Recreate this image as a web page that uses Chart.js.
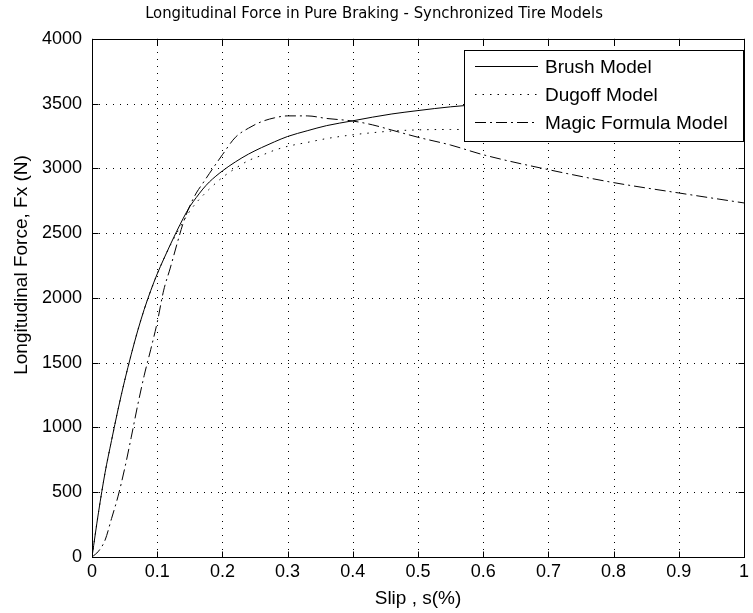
<!DOCTYPE html>
<html>
<head>
<meta charset="utf-8">
<script src="https://cdn.jsdelivr.net/npm/chart.js@4"></script>
<style>
  html, body { margin: 0; padding: 0; background: #fff; }
  canvas { display: block; }
</style>
</head>
<body>
<canvas id="chart" width="753" height="613"></canvas>
<script>
// valeurs
const slip = [0, 0.01, 0.02, 0.03, 0.04, 0.05, 0.06, 0.07, 0.08, 0.09, 0.1, 0.11, 0.12, 0.13, 0.14, 0.15,
  0.16, 0.17, 0.18, 0.2, 0.22, 0.24, 0.26, 0.28, 0.3, 0.33, 0.36, 0.4, 0.43, 0.46, 0.5, 0.55, 0.6, 0.7, 0.8, 0.9, 1.0];
const brushForce = [0, 345, 650, 900, 1140, 1360, 1560, 1745, 1910, 2055, 2185, 2300, 2410, 2515, 2615, 2705,
  2775, 2840, 2895, 2980, 3050, 3110, 3160, 3205, 3246, 3290, 3330, 3367, 3395, 3420, 3446, 3475, 3495, 3525, 3548, 3565, 3577];
const dugoffForce = [0, 345, 650, 900, 1140, 1360, 1560, 1745, 1910, 2055, 2185, 2300, 2405, 2500, 2590, 2670,
  2735, 2790, 2840, 2930, 3000, 3060, 3100, 3140, 3170, 3200, 3230, 3259, 3275, 3288, 3297, 3300, 3300, 3300, 3298, 3295, 3292];
const magicForce = [0, 45, 130, 297, 470, 680, 920, 1170, 1400, 1600, 1810, 2060, 2230, 2410, 2580, 2710,
  2810, 2885, 2960, 3105, 3240, 3310, 3360, 3390, 3405, 3405, 3385, 3365, 3336, 3295, 3240, 3180, 3105, 2990, 2890, 2810, 2733];

const seriesNames = ["Brush Model", "Dugoff Model", "Magic Formula Model"];
const xTickValues = [0, 0.1, 0.2, 0.3, 0.4, 0.5, 0.6, 0.7, 0.8, 0.9, 1];
const xTickLabels = ["0", "0.1", "0.2", "0.3", "0.4", "0.5", "0.6", "0.7", "0.8", "0.9", "1"];
const yTickValues = [0, 500, 1000, 1500, 2000, 2500, 3000, 3500, 4000];
const yTickLabels = ["0", "500", "1000", "1500", "2000", "2500", "3000", "3500", "4000"];

const chartTitle = "Longitudinal Force in Pure Braking - Synchronized Tire Models";
const xTitle = "Slip , s(%)";
const yTitle = "Longitudinal Force, Fx (N)";

const FONT = "'Liberation Sans', Arial, sans-serif";
const DOTTED = [1.5, 6];
const DASHDOT = [11, 4, 2, 4];

function points(ys) {
  return slip.map((s, i) => ({ x: s, y: ys[i] }));
}

// grille pointillée, cadre, graduations intérieures, légende et titre y
const matlabAxes = {
  id: "matlabAxes",
  beforeDatasetsDraw(chart) {
    const { ctx, chartArea: a, scales } = chart;
    ctx.save();
    ctx.strokeStyle = "#000";
    ctx.lineWidth = 1;
    ctx.setLineDash([1, 6]);
    xTickValues.forEach(v => {
      const px = Math.round(scales.x.getPixelForValue(v)) + 0.5;
      ctx.beginPath(); ctx.moveTo(px, a.bottom); ctx.lineTo(px, a.top); ctx.stroke();
    });
    yTickValues.forEach(v => {
      const py = Math.round(scales.y.getPixelForValue(v)) + 0.5;
      ctx.beginPath(); ctx.moveTo(a.left, py); ctx.lineTo(a.right, py); ctx.stroke();
    });
    ctx.restore();
  },
  afterDraw(chart) {
    const { ctx, chartArea: a, scales } = chart;
    const L = Math.round(a.left) + 0.5, R = Math.round(a.right) + 0.5;
    const T = Math.round(a.top) + 0.5, B = Math.round(a.bottom) + 0.5;
    ctx.save();
    ctx.strokeStyle = "#000";
    ctx.lineWidth = 1;
    ctx.setLineDash([]);
    ctx.strokeRect(L, T, R - L, B - T);
    const tick = 6;
    ctx.beginPath();
    xTickValues.forEach(v => {
      const px = Math.round(scales.x.getPixelForValue(v)) + 0.5;
      ctx.moveTo(px, B); ctx.lineTo(px, B - tick);
      ctx.moveTo(px, T); ctx.lineTo(px, T + tick);
    });
    yTickValues.forEach(v => {
      const py = Math.round(scales.y.getPixelForValue(v)) + 0.5;
      ctx.moveTo(L, py); ctx.lineTo(L + tick, py);
      ctx.moveTo(R, py); ctx.lineTo(R - tick, py);
    });
    ctx.stroke();

    // légende
    const bx = 464.5, by = 50.5, bw = 279, bh = 91;
    ctx.fillStyle = "#fff";
    ctx.fillRect(bx, by, bw, bh);
    ctx.strokeRect(bx, by, bw, bh);
    ctx.font = "19px " + FONT;
    ctx.textBaseline = "middle";
    ctx.textAlign = "left";
    chart.data.datasets.forEach((ds, i) => {
      const y = Math.round(66 + i * 28) + 0.5;
      ctx.save();
      ctx.setLineDash(ds.borderDash || []);
      ctx.strokeStyle = ds.borderColor;
      ctx.lineWidth = ds.borderWidth;
      ctx.beginPath(); ctx.moveTo(475, y); ctx.lineTo(538, y); ctx.stroke();
      ctx.restore();
      ctx.fillStyle = "#000";
      ctx.fillText(ds.label, 545, y + 1);
    });

    // titre de l'axe y
    ctx.translate(22, 265);
    ctx.rotate(-Math.PI / 2);
    ctx.textAlign = "center";
    ctx.font = "19px " + FONT;
    ctx.fillText(yTitle, 0, 0);
    ctx.restore();
  }
};

const ctx = document.getElementById("chart").getContext("2d");
new Chart(ctx, {
  type: "line",
  data: {
    datasets: [
      { label: seriesNames[0], data: points(brushForce), borderColor: "#000", borderWidth: 1, borderDash: [] },
      { label: seriesNames[1], data: points(dugoffForce), borderColor: "#000", borderWidth: 1, borderDash: DOTTED },
      { label: seriesNames[2], data: points(magicForce), borderColor: "#000", borderWidth: 1, borderDash: DASHDOT },
    ],
  },
  options: {
    responsive: false,
    animation: false,
    layout: { padding: { left: 0, right: 5, top: 0, bottom: 0 } },
    elements: {
      point: { radius: 0 },
      line: { cubicInterpolationMode: "monotone", fill: false },
    },
    plugins: {
      legend: { display: false },
      tooltip: { enabled: false },
      title: {
        display: true,
        text: chartTitle,
        color: "#000",
        font: { family: "'Liberation Sans Narrow', 'DejaVu Sans Condensed', sans-serif", size: 16.5, weight: "normal" },
        padding: { top: 4, bottom: 15 },
      },
    },
    scales: {
      x: {
        type: "linear",
        min: 0,
        max: 1,
        grid: { display: false, drawTicks: false },
        border: { display: false },
        afterBuildTicks: s => { s.ticks = xTickValues.map(v => ({ value: v })); },
        ticks: {
          callback: (v, i) => xTickLabels[i],
          color: "#000",
          font: { family: FONT, size: 18 },
          padding: 4,
          maxRotation: 0,
          autoSkip: false,
        },
        title: {
          display: true,
          text: xTitle,
          color: "#000",
          font: { family: FONT, size: 19 },
          padding: { top: 3, bottom: 3 },
        },
        afterFit: s => { s.height = 56; },
      },
      y: {
        type: "linear",
        min: 0,
        max: 4000,
        grid: { display: false, drawTicks: false },
        border: { display: false },
        afterBuildTicks: s => { s.ticks = yTickValues.map(v => ({ value: v })); },
        ticks: {
          callback: (v, i) => yTickLabels[i],
          color: "#000",
          font: { family: FONT, size: 18 },
          padding: 10,
          autoSkip: false,
        },
        afterFit: s => { s.width = 92; },
      },
    },
  },
  plugins: [matlabAxes],
});
</script>
</body>
</html>
